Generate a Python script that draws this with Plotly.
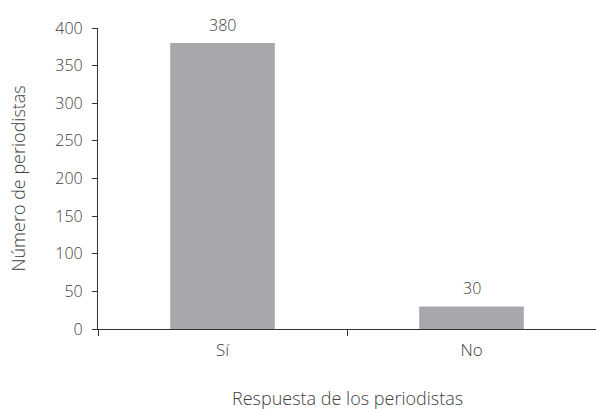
import plotly.graph_objects as go

categories = ["Sí", "No"]
values = [380, 30]
y_ticks = [0, 50, 100, 150, 200, 250, 300, 350, 400]
x_title = "Respuesta de los periodistas"
y_title = "Número de periodistas"

font_family = "Open Sans, Noto Sans, sans-serif"
text_color = "#404040"

fig = go.Figure(
    go.Bar(
        x=categories,
        y=values,
        marker=dict(color="#a7a8ab", line=dict(width=0)),
        width=0.42,
        cliponaxis=False,
        hoverinfo="skip",
    )
)

for c, v in zip(categories, values):
    fig.add_annotation(
        x=c, y=v, text=str(v), showarrow=False, yanchor="bottom", yshift=5,
        font=dict(family=font_family, size=16, color=text_color, weight=300),
    )

fig.add_annotation(
    text=x_title, xref="paper", yref="paper", x=0.5, y=0,
    xanchor="center", yanchor="middle", yshift=-69, showarrow=False,
    font=dict(family=font_family, size=18, color=text_color, weight=300),
)
fig.add_annotation(
    text=y_title, xref="paper", yref="paper", x=0, y=0.5, textangle=-90,
    xanchor="center", yanchor="middle", xshift=-81, showarrow=False,
    font=dict(family=font_family, size=18, color=text_color, weight=300),
)

fig.update_layout(
    width=596, height=409,
    margin=dict(l=98, r=0, t=28, b=80),
    paper_bgcolor="white", plot_bgcolor="white",
    font=dict(family=font_family, size=16, color=text_color, weight=300),
    showlegend=False,
    xaxis=dict(
        range=[-0.5, 1.5], tickson="boundaries", ticks="outside", ticklen=6,
        tickcolor="#333", showline=True, linecolor="#333", linewidth=1.2,
        showgrid=False, zeroline=False, automargin=False,
        ticklabelstandoff=5,
        tickfont=dict(size=17, color=text_color, weight=300),
    ),
    yaxis=dict(
        range=[0, 400], tickvals=y_ticks, ticks="outside", ticklen=5,
        tickcolor="#333", showline=True, linecolor="#333", linewidth=1.2,
        showgrid=False, zeroline=False, automargin=False,
        ticklabelstandoff=6,
        tickfont=dict(size=16, color=text_color, weight=300),
    ),
)

fig.write_html(
    "out.html",
    config={"displayModeBar": False},
    post_script="document.body.style.margin='0';document.body.style.overflow='hidden';",
)
